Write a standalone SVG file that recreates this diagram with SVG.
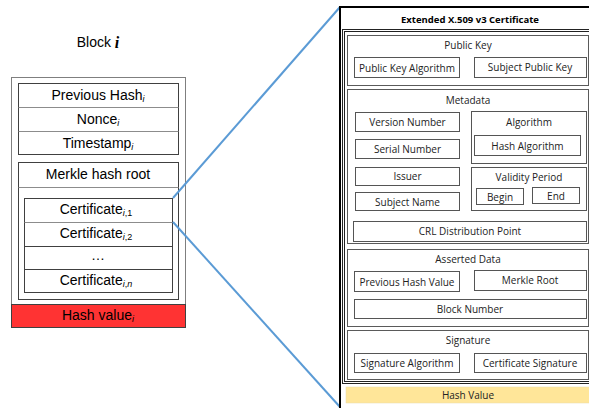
<svg xmlns="http://www.w3.org/2000/svg" width="589" height="408" viewBox="0 0 589 408">
<style>
.l{font-family:"Liberation Sans",Arial,sans-serif;font-size:14px;fill:#000;text-anchor:middle;dominant-baseline:central}
.sub{font-size:9px;font-style:italic}
.r{font-family:"Open Sans","Noto Sans",sans-serif;font-size:10px;fill:#222;text-anchor:middle;dominant-baseline:central}
.t{font-family:"Open Sans","Noto Sans",sans-serif;font-size:9.5px;font-weight:bold;fill:#000;text-anchor:middle;dominant-baseline:central}
.ob{fill:#fff;stroke:#7f7f7f;stroke-width:1}
.ib{fill:#fff;stroke:#404040;stroke-width:1}
.sep{stroke:#8c8c8c;stroke-width:1}
.sec{fill:#fff;stroke:#5a5a5a;stroke-width:1}
.it{fill:#fff;stroke:#555;stroke-width:1}
.conn{stroke:#5b9bd5;stroke-width:2;fill:none}
</style>
<rect width="589" height="408" fill="#fff"/>

<g id="block-title">
<text class="l" x="98" y="42">Block <tspan font-family="'Liberation Serif',serif" font-weight="bold" font-style="italic" font-size="16">i</tspan></text>
</g>

<g id="block">
<rect class="ob" x="11.5" y="77.5" width="174" height="227"/>
<g id="header">
<rect class="ib" x="18.5" y="83.5" width="160" height="71"/>
<line class="sep" x1="18.5" y1="107.5" x2="178.5" y2="107.5"/>
<line class="sep" x1="18.5" y1="131.5" x2="178.5" y2="131.5"/>
<text class="l" x="98" y="95">Previous Hash<tspan class="sub" dy="4">i</tspan></text>
<text class="l" x="98" y="119">Nonce<tspan class="sub" dy="4">i</tspan></text>
<text class="l" x="98" y="143">Timestamp<tspan class="sub" dy="4">i</tspan></text>
</g>
<g id="body">
<rect class="ib" x="18.5" y="162.5" width="160" height="137"/>
<line class="sep" x1="18.5" y1="187.5" x2="178.5" y2="187.5"/>
<text class="l" x="98" y="174">Merkle hash root</text>
</g>
<g id="certs">
<rect class="ib" x="24.5" y="198.5" width="148" height="94"/>
<line class="sep" x1="24.5" y1="222.5" x2="172.5" y2="222.5"/>
<line class="ib" x1="24.5" y1="246.5" x2="172.5" y2="246.5"/>
<line class="ib" x1="24.5" y1="269.5" x2="172.5" y2="269.5"/>
<text class="l" x="96" y="209">Certificate<tspan class="sub" dy="4">i</tspan><tspan font-size="9px" dy="0">,1</tspan></text>
<text class="l" x="96" y="233">Certificate<tspan class="sub" dy="4">i</tspan><tspan font-size="9px" dy="0">,2</tspan></text>
<text class="l" x="98" y="255">…</text>
<text class="l" x="96" y="280">Certificate<tspan class="sub" dy="4">i</tspan><tspan font-size="9px" dy="0">,</tspan><tspan class="sub" dy="0">n</tspan></text>
</g>
<g id="hash-value-i">
<rect x="11.5" y="304.5" width="174" height="23" fill="#ff3333" stroke="#404040" stroke-width="1"/>
<text class="l" x="98" y="315">Hash value<tspan class="sub" dy="4">i</tspan></text>
</g>
</g>

<g id="connectors">
<line class="conn" x1="173" y1="198" x2="340" y2="7"/>
<line class="conn" x1="173" y1="222" x2="340" y2="407"/>
</g>

<g id="certificate">
<rect x="340" y="7" width="260" height="410" fill="#fff" stroke="#000" stroke-width="2"/>
<text class="t" x="470" y="19">Extended X.509  v3 Certificate</text>
<rect x="342.5" y="29.5" width="255" height="354" fill="none" stroke="#222" stroke-width="1"/>
<rect x="344.5" y="31.5" width="251" height="350" fill="none" stroke="#222" stroke-width="1"/>

<g id="public-key">
<rect class="sec" x="347.5" y="35.5" width="241" height="50"/>
<text class="r" x="468" y="45">Public Key</text>
<rect class="it" x="354.5" y="57.5" width="105" height="20"/>
<text class="r" x="407" y="67.5">Public Key Algorithm</text>
<rect class="it" x="474.5" y="57.5" width="112" height="20"/>
<text class="r" x="530" y="67">Subject Public Key</text>
</g>

<g id="metadata">
<rect class="sec" x="347.5" y="89.5" width="241" height="154"/>
<text class="r" x="468" y="99.5">Metadata</text>
<rect class="it" x="355.5" y="112.5" width="104" height="19"/>
<text class="r" x="407.5" y="122">Version Number</text>
<rect class="it" x="355.5" y="139.5" width="104" height="19"/>
<text class="r" x="407.5" y="149">Serial Number</text>
<rect class="it" x="355.5" y="167.5" width="104" height="18"/>
<text class="r" x="407.5" y="175.5">Issuer</text>
<rect class="it" x="355.5" y="192.5" width="104" height="18"/>
<text class="r" x="407.5" y="201.5">Subject Name</text>
<rect class="it" x="471.5" y="111.5" width="115" height="52"/>
<text class="r" x="529" y="122">Algorithm</text>
<rect class="it" x="474.5" y="135.5" width="106" height="20"/>
<text class="r" x="527.5" y="145.5">Hash Algorithm</text>
<rect class="it" x="471.5" y="167.5" width="115" height="43"/>
<text class="r" x="529" y="177">Validity Period</text>
<rect class="it" x="476.5" y="188.5" width="47" height="16"/>
<text class="r" x="500" y="197">Begin</text>
<rect class="it" x="532.5" y="187.5" width="47" height="16"/>
<text class="r" x="556" y="196">End</text>
<rect class="it" x="353.5" y="221.5" width="233" height="20"/>
<text class="r" x="470" y="231">CRL Distribution Point</text>
</g>

<g id="asserted-data">
<rect class="sec" x="347.5" y="249.5" width="241" height="77"/>
<text class="r" x="468" y="259">Asserted Data</text>
<rect class="it" x="354.5" y="271.5" width="105" height="20"/>
<text class="r" x="407" y="281.5">Previous Hash Value</text>
<rect class="it" x="474.5" y="270.5" width="112" height="20"/>
<text class="r" x="530" y="280">Merkle Root</text>
<rect class="it" x="354.5" y="299.5" width="232" height="19"/>
<text class="r" x="470" y="309">Block Number</text>
</g>

<g id="signature">
<rect class="sec" x="347.5" y="330.5" width="241" height="49"/>
<text class="r" x="468" y="339.5">Signature</text>
<rect class="it" x="354.5" y="353.5" width="105" height="19"/>
<text class="r" x="407" y="363">Signature Algorithm</text>
<rect class="it" x="474.5" y="353.5" width="112" height="19"/>
<text class="r" x="530" y="363">Certificate Signature</text>
</g>

<g id="hash-value">
<rect x="346" y="387" width="250" height="16" fill="#ffe699" stroke="#e8d9a8" stroke-width="0.5"/>
<text class="r" x="468" y="395">Hash Value</text>
</g>
</g>
</svg>
